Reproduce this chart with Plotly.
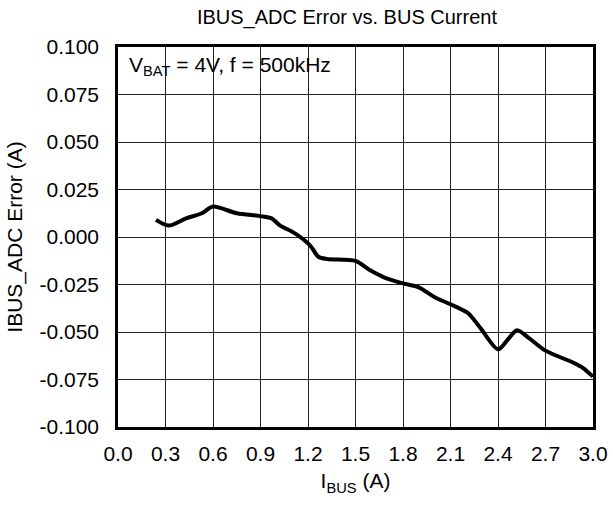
import plotly.graph_objects as go

x_ibus = [0.24, 0.32, 0.43, 0.53, 0.60, 0.75, 0.90, 0.97, 1.02, 1.11, 1.17, 1.22, 1.265, 1.32, 1.50,
          1.59, 1.68, 1.80, 1.90, 2.00, 2.10, 2.21, 2.29, 2.40, 2.46, 2.52, 2.60, 2.70, 2.88, 2.94, 3.00]
y_err = [0.009, 0.006, 0.0098, 0.0125, 0.016, 0.0125, 0.011, 0.0098, 0.0063, 0.0023, -0.0012, -0.0051,
         -0.0104, -0.0116, -0.0126, -0.0174, -0.0212, -0.0244, -0.0265, -0.0317, -0.0354, -0.0400,
         -0.048, -0.0591, -0.0542, -0.0491, -0.0535, -0.0598, -0.0663, -0.0691, -0.0735]

x_ticks = [0.0, 0.3, 0.6, 0.9, 1.2, 1.5, 1.8, 2.1, 2.4, 2.7, 3.0]
y_ticks = [-0.100, -0.075, -0.050, -0.025, 0.000, 0.025, 0.050, 0.075, 0.100]

FONT = "Liberation Sans, Arial, sans-serif"

fig = go.Figure()
fig.add_trace(go.Scatter(
    x=x_ibus, y=y_err, mode="lines",
    line=dict(color="black", width=4, shape="spline", smoothing=0.8),
    showlegend=False, hoverinfo="skip"))

fig.update_layout(
    template="none",
    width=613, height=507,
    margin=dict(l=118, r=20, t=47, b=80, autoexpand=False),
    paper_bgcolor="white", plot_bgcolor="white",
    font=dict(family=FONT, size=20, color="black"),
    title=dict(text="IBUS_ADC Error vs. BUS Current", x=0.566, xanchor="center",
               y=0.967, yanchor="middle", font=dict(size=20, family=FONT, color="black")),
    xaxis=dict(range=[0, 3.0], tickvals=x_ticks, ticktext=[f"{v:.1f}" for v in x_ticks],
               showgrid=True, gridcolor="#222", gridwidth=1,
               showline=True, linecolor="black", linewidth=2.5, mirror=True,
               zeroline=False, ticks="", ticklabelstandoff=6, automargin=False,
               tickfont=dict(size=21),
               title=dict(text="I<sub>BUS</sub> (A)", standoff=10, font=dict(size=21))),
    yaxis=dict(range=[-0.100, 0.100], tickvals=y_ticks, ticktext=[f"{v:.3f}" for v in y_ticks],
               showgrid=True, gridcolor="#222", gridwidth=1,
               showline=True, linecolor="black", linewidth=2.5, mirror=True,
               zeroline=False, ticks="", ticklabelstandoff=12, automargin=False,
               tickfont=dict(size=21),
               title=dict(text="IBUS_ADC Error (A)", standoff=12, font=dict(size=21))),
    annotations=[dict(text="V<sub>BAT</sub> = 4V, f = 500kHz", xref="paper", yref="paper",
                      x=0.019, y=0.99, xanchor="left", yanchor="top", showarrow=False,
                      font=dict(size=21, family=FONT, color="black"))],
)

fig.write_html("out.html", config={"displayModeBar": False},
               post_script="document.body.style.margin='0';document.body.style.padding='0';")
